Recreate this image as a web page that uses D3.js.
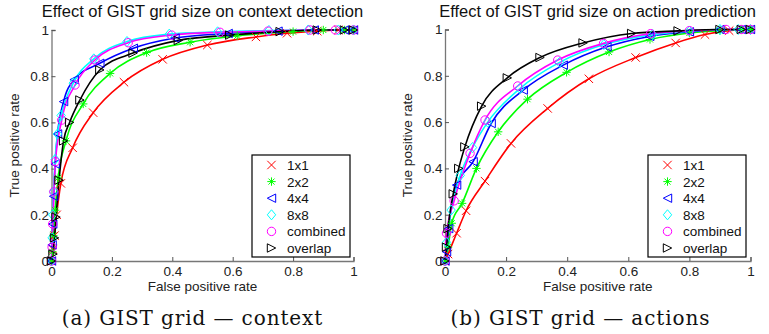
<!DOCTYPE html>
<html>
<head>
<meta charset="utf-8">
<script src="https://cdn.jsdelivr.net/npm/d3@7"></script>
<style>
  body { margin: 0; background: #fff; }
  svg { display: block; }
</style>
</head>
<body>
<svg id="chart" width="769" height="334"></svg>
<script>
// series names, colours and marker shapes
let seriesNames = ["1x1", "2x2", "4x4", "8x8", "combined", "overlap"];
let seriesColors = ["#ff0000", "#00ff00", "#0000ff", "#00ffff", "#ff00ff", "#000000"];
let seriesMarkers = ["x", "star", "triLeft", "diamond", "circle", "triRight"];
let ticks = [0, 0.2, 0.4, 0.6, 0.8, 1];

// (a) context detection: [fpr, tpr]
let context1x1 = [[0,0],[0.005,0.05],[0.01,0.11],[0.017,0.2],[0.031,0.336],[0.07,0.49],[0.138,0.642],[0.24,0.774],[0.368,0.873],[0.516,0.935],[0.677,0.97],[0.78,0.986],[0.88,0.995],[0.95,1],[1,1]];
let context2x2 = [[0,0],[0.003,0.04],[0.006,0.11],[0.012,0.22],[0.022,0.36],[0.048,0.52],[0.105,0.68],[0.194,0.812],[0.315,0.902],[0.459,0.947],[0.615,0.975],[0.8,0.993],[0.9,1],[0.97,1],[1,1]];
let context4x4 = [[0,0],[0.002,0.07],[0.004,0.16],[0.007,0.28],[0.012,0.42],[0.02,0.55],[0.04,0.69],[0.075,0.785],[0.16,0.856],[0.271,0.921],[0.409,0.965],[0.585,0.985],[0.75,0.995],[0.87,1],[0.97,1],[1,1]];
let context8x8 = [[0,0],[0.002,0.1],[0.004,0.2],[0.007,0.3],[0.012,0.44],[0.02,0.55],[0.032,0.63],[0.072,0.77],[0.14,0.875],[0.25,0.95],[0.39,0.982],[0.55,0.992],[0.72,0.998],[0.85,1],[0.95,1],[1,1]];
let contextCombined = [[0,0],[0.002,0.06],[0.004,0.16],[0.008,0.3],[0.013,0.43],[0.034,0.61],[0.078,0.762],[0.144,0.87],[0.254,0.945],[0.398,0.978],[0.558,0.99],[0.717,0.995],[0.856,1],[0.94,1],[1,1]];
let contextOverlap = [[0,0],[0.005,0.03],[0.01,0.1],[0.015,0.19],[0.025,0.35],[0.04,0.52],[0.06,0.6],[0.094,0.697],[0.16,0.827],[0.27,0.9],[0.42,0.955],[0.59,0.978],[0.757,0.993],[0.88,1],[0.97,1],[1,1]];

// (b) action prediction: [fpr, tpr]
let action1x1 = [[0,0],[0.01,0.03],[0.038,0.12],[0.069,0.217],[0.131,0.345],[0.216,0.508],[0.336,0.659],[0.471,0.787],[0.624,0.879],[0.755,0.942],[0.851,0.978],[0.93,0.995],[1,1]];
let action2x2 = [[0,0],[0.01,0.06],[0.022,0.163],[0.056,0.249],[0.103,0.4],[0.174,0.558],[0.27,0.699],[0.398,0.815],[0.537,0.903],[0.671,0.957],[0.8,0.985],[0.9,0.995],[0.97,1],[1,1]];
let action4x4 = [[0,0],[0.005,0.04],[0.012,0.14],[0.038,0.328],[0.092,0.429],[0.151,0.594],[0.256,0.738],[0.387,0.846],[0.53,0.925],[0.67,0.97],[0.8,0.99],[0.9,1],[0.97,1],[1,1]];
let action8x8 = [[0,0],[0.005,0.08],[0.02,0.22],[0.05,0.37],[0.09,0.49],[0.14,0.6],[0.245,0.745],[0.375,0.858],[0.52,0.935],[0.68,0.978],[0.8,0.993],[0.9,1],[0.96,1],[1,1]];
let actionCombined = [[0,0],[0.005,0.12],[0.03,0.26],[0.082,0.465],[0.131,0.609],[0.238,0.756],[0.369,0.868],[0.519,0.94],[0.673,0.982],[0.8,0.995],[0.92,1],[0.97,1],[1,1]];
let actionOverlap = [[0,0],[0.005,0.06],[0.01,0.14],[0.027,0.29],[0.045,0.4],[0.065,0.493],[0.12,0.669],[0.204,0.791],[0.311,0.879],[0.452,0.942],[0.611,0.983],[0.763,0.994],[0.9,1],[0.97,1],[1,1]];

let panels = [
  { title: "Effect of GIST grid size on context detection",
    caption: "(a) GIST grid \u2014 context",
    left: 51.5, right: 353.5, top: 30, bottom: 261, legendX: 252,
    titleX: 202.5, captionX: 192.5,
    series: [context1x1, context2x2, context4x4, context8x8, contextCombined, contextOverlap] },
  { title: "Effect of GIST grid size on action prediction",
    caption: "(b) GIST grid \u2014 actions",
    left: 445, right: 750.5, top: 29.5, bottom: 261, legendX: 648,
    titleX: 597.5, captionX: 580.5,
    series: [action1x1, action2x2, action4x4, action8x8, actionCombined, actionOverlap] }
];

function markerPath(type, r) {
  switch (type) {
    case "x": return `M${-r},${-r}L${r},${r}M${-r},${r}L${r},${-r}`;
    case "star": {
      let a = r * 0.72;
      return `M${-r},0L${r},0M0,${-r}L0,${r}M${-a},${-a}L${a},${a}M${-a},${a}L${a},${-a}`;
    }
    case "triLeft": return `M${-r},0L${r},${-r}L${r},${r}Z`;
    case "triRight": return `M${r},0L${-r},${-r}L${-r},${r}Z`;
    case "diamond": return `M0,${-r * 1.2}L${r},0L0,${r * 1.2}L${-r},0Z`;
    case "circle": return `M${r},0A${r},${r} 0 1,1 ${-r},0A${r},${r} 0 1,1 ${r},0`;
  }
}

let svg = d3.select("#chart");
let font = "'Liberation Sans', Arial, sans-serif";

panels.forEach(p => {
  let x = d3.scaleLinear().domain([0, 1]).range([p.left, p.right]);
  let y = d3.scaleLinear().domain([0, 1]).range([p.bottom, p.top]);
  let g = svg.append("g");

  // axes (matlab style, ticks inward)
  let xAxis = d3.axisBottom(x).tickValues(ticks).tickSize(-4).tickPadding(5)
    .tickFormat(d => d3.format("~g")(d));
  let yAxis = d3.axisLeft(y).tickValues(ticks).tickSize(-4).tickPadding(2.5)
    .tickFormat(d => d3.format("~g")(d));

  let gx = g.append("g").attr("transform", `translate(0,${p.bottom})`).call(xAxis);
  let gy = g.append("g").attr("transform", `translate(${p.left},0)`).call(yAxis);
  [gx, gy].forEach(a => {
    a.select(".domain").attr("stroke", "#777").attr("stroke-width", 1.3);
    a.selectAll(".tick line").attr("stroke", "#555");
    a.selectAll("text").attr("font-family", font).attr("font-size", 13.5).attr("fill", "#222");
  });

  let line = d3.line()
    .x(d => x(d[0]))
    .y(d => y(d[1]))
    .curve(d3.curveMonotoneX);

  p.series.forEach((s, i) => {
    g.append("path")
      .attr("fill", "none")
      .attr("stroke", seriesColors[i])
      .attr("stroke-width", 1.6)
      .attr("d", line(s));
  });
  p.series.forEach((s, i) => {
    g.selectAll(null).data(s).enter().append("path")
      .attr("transform", d => `translate(${x(d[0])},${y(d[1])})`)
      .attr("d", markerPath(seriesMarkers[i], 4.2))
      .attr("fill", "none")
      .attr("stroke", seriesColors[i])
      .attr("stroke-width", 1);
  });

  // titles and labels
  g.append("text")
    .attr("x", p.titleX).attr("y", 17)
    .attr("text-anchor", "middle")
    .attr("font-family", font).attr("font-size", 16.5).attr("fill", "#111")
    .text(p.title);
  g.append("text")
    .attr("x", (p.left + p.right) / 2).attr("y", 291)
    .attr("text-anchor", "middle")
    .attr("font-family", font).attr("font-size", 13.5).attr("fill", "#222")
    .text("False positive rate");
  g.append("text")
    .attr("transform", `translate(${p.left - 33},${(p.top + p.bottom) / 2}) rotate(-90)`)
    .attr("text-anchor", "middle")
    .attr("font-family", font).attr("font-size", 13.5).attr("fill", "#222")
    .text("True positive rate");
  g.append("text")
    .attr("x", p.captionX).attr("y", 325)
    .attr("text-anchor", "middle")
    .attr("font-family", "'DejaVu Serif', serif").attr("font-size", 20)
    .attr("letter-spacing", 0.9).attr("fill", "#111")
    .text(p.caption);

  // legend
  let lg = g.append("g").attr("transform", `translate(${p.legendX},155)`);
  lg.append("rect")
    .attr("width", 98).attr("height", 102)
    .attr("fill", "#fff").attr("stroke", "#000").attr("stroke-width", 1.2);
  seriesNames.forEach((name, i) => {
    let yy = 10 + i * 16.6;
    lg.append("path")
      .attr("transform", `translate(19.5,${yy})`)
      .attr("d", markerPath(seriesMarkers[i], 4.2))
      .attr("fill", "none")
      .attr("stroke", seriesColors[i])
      .attr("stroke-width", 1);
    lg.append("text")
      .attr("x", 35).attr("y", yy + 5)
      .attr("font-family", font).attr("font-size", 13.5).attr("fill", "#111")
      .text(name);
  });
});
</script>
</body>
</html>
